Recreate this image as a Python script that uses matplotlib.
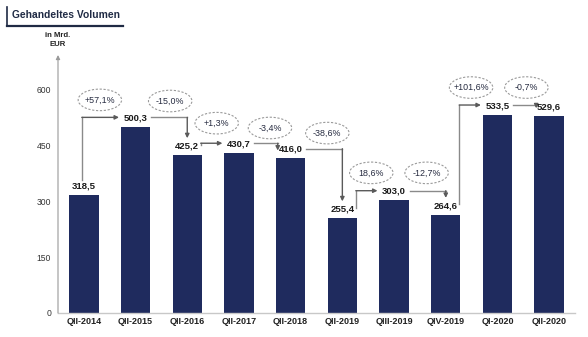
import matplotlib
matplotlib.use("Agg")
import matplotlib.pyplot as plt
from matplotlib.patches import Ellipse
from matplotlib.lines import Line2D

plt.rcParams["font.family"] = ["Liberation Sans", "DejaVu Sans"]

# data
quarters = ["QII-2014", "QII-2015", "QII-2016", "QII-2017", "QII-2018",
            "QII-2019", "QIII-2019", "QIV-2019", "QI-2020", "QII-2020"]
volumes = [318.5, 500.3, 425.2, 430.7, 416.0, 255.4, 303.0, 264.6, 533.5, 529.6]
changes = ["+57,1%", "-15,0%", "+1,3%", "-3,4%", "-38,6%",
           "18,6%", "-12,7%", "+101,6%", "-0,7%"]
y_ticks = [0, 150, 300, 450, 600]

# layout of the change bubbles (offsets only)
bubble_dx = [0.31, 0.67, 0.57, 0.60, 0.71, 0.56, 0.63, 0.49, 0.56]
bubble_dy = [73, 70, 80, 67, 68, 74, 74, 73, 73]

navy = "#1f2b5e"
grey_line = "#8a8a8a"

fig = plt.figure(figsize=(5.88, 3.37), dpi=100)
ax = fig.add_axes([58 / 588, 1 - 313 / 337, 517 / 588, 260.2 / 337])

x = list(range(len(quarters)))
ax.bar(x, volumes, width=0.57, color=navy, zorder=2)
ax.set_xlim(-0.5, 9.5)
ax.set_ylim(0, 700)

ax.set_xticks(x)
ax.set_xticklabels(quarters, fontsize=6.5, fontweight="bold", color="#222222")
ax.set_yticks(y_ticks)
ax.set_yticklabels([str(t) for t in y_ticks], fontsize=6.2, color="#333333")
ax.tick_params(axis="both", length=0)
ax.tick_params(axis="y", pad=5)
ax.tick_params(axis="x", pad=3)
for s in ["top", "right", "left"]:
    ax.spines[s].set_visible(False)
ax.spines["bottom"].set_color("#c8c8c8")
ax.spines["bottom"].set_linewidth(1)

# y axis with arrow
ax.annotate("", xy=(-0.5, 694), xytext=(-0.5, 0),
            arrowprops=dict(arrowstyle="-|>", color="#9a9a9a", lw=0.8,
                            mutation_scale=6, shrinkA=0, shrinkB=0),
            annotation_clip=False)
ax.text(-0.5, 735, "in Mrd.\nEUR", ha="center", va="center", fontsize=5.6,
        fontweight="bold", color="#222222", linespacing=1.45, clip_on=False)


def fmt(v):
    return f"{v:.1f}".replace(".", ",")


# value labels
for i, v in enumerate(volumes):
    ax.text(i, v + 24, fmt(v), ha="center", va="center", fontsize=6.8,
            fontweight="bold", color="#1a1a1a", zorder=4)


def arrow(points):
    xs = [p[0] for p in points[:-1]]
    ys = [p[1] for p in points[:-1]]
    ax.plot(xs, ys, color=grey_line, lw=1.0, zorder=3, solid_joinstyle="miter",
            clip_on=False)
    ax.annotate("", xy=points[-1], xytext=points[-2],
                arrowprops=dict(arrowstyle="-|>", color="#5a5a5a", lw=1.0,
                                mutation_scale=6, shrinkA=0, shrinkB=0),
                annotation_clip=False, zorder=3)


# change arrows and bubbles
for i in range(len(changes)):
    v0, v1 = volumes[i], volumes[i + 1]
    if v1 > v0:
        if i == 0:
            sx, sy = i - 0.04, v0 + 40
        else:
            sx, sy = i + 0.26, v0 + 28
        hy = v1 + 26
        arrow([(sx, sy), (sx, hy), (i + 1 - 0.32, hy)])
    else:
        sx, sy = i + 0.3, v0 + 26
        if v0 - v1 < 30:
            arrow([(sx, sy), (i + 1 - 0.25, sy), (i + 1 - 0.25, v1 + 21)])
        else:
            arrow([(sx, sy), (i + 1, sy), (i + 1, v1 + 45)])

    cx = i + bubble_dx[i]
    cy = max(v0, v1) + bubble_dy[i]
    ax.add_patch(Ellipse((cx, cy), width=0.84, height=58, facecolor="white",
                         edgecolor="#9a9a9a", lw=0.8, ls=(0, (2.0, 1.5)),
                         zorder=4, clip_on=False))
    ax.text(cx, cy, changes[i], ha="center", va="center", fontsize=6.4,
            color="#262b40", zorder=5)

# title box
fig.text(12 / 588, 1 - 15 / 337, "Gehandeltes Volumen", ha="left", va="center",
         fontsize=7.4, fontweight="bold", color="#1f2a44")
fig.add_artist(Line2D([7 / 588, 7 / 588], [1 - 7 / 337, 1 - 25.5 / 337],
                      transform=fig.transFigure, color="#1f2a44", lw=1.2))
fig.add_artist(Line2D([7 / 588, 123 / 588], [1 - 25.5 / 337, 1 - 25.5 / 337],
                      transform=fig.transFigure, color="#1f2a44", lw=1.6))

fig.savefig("out.png", dpi=100)
